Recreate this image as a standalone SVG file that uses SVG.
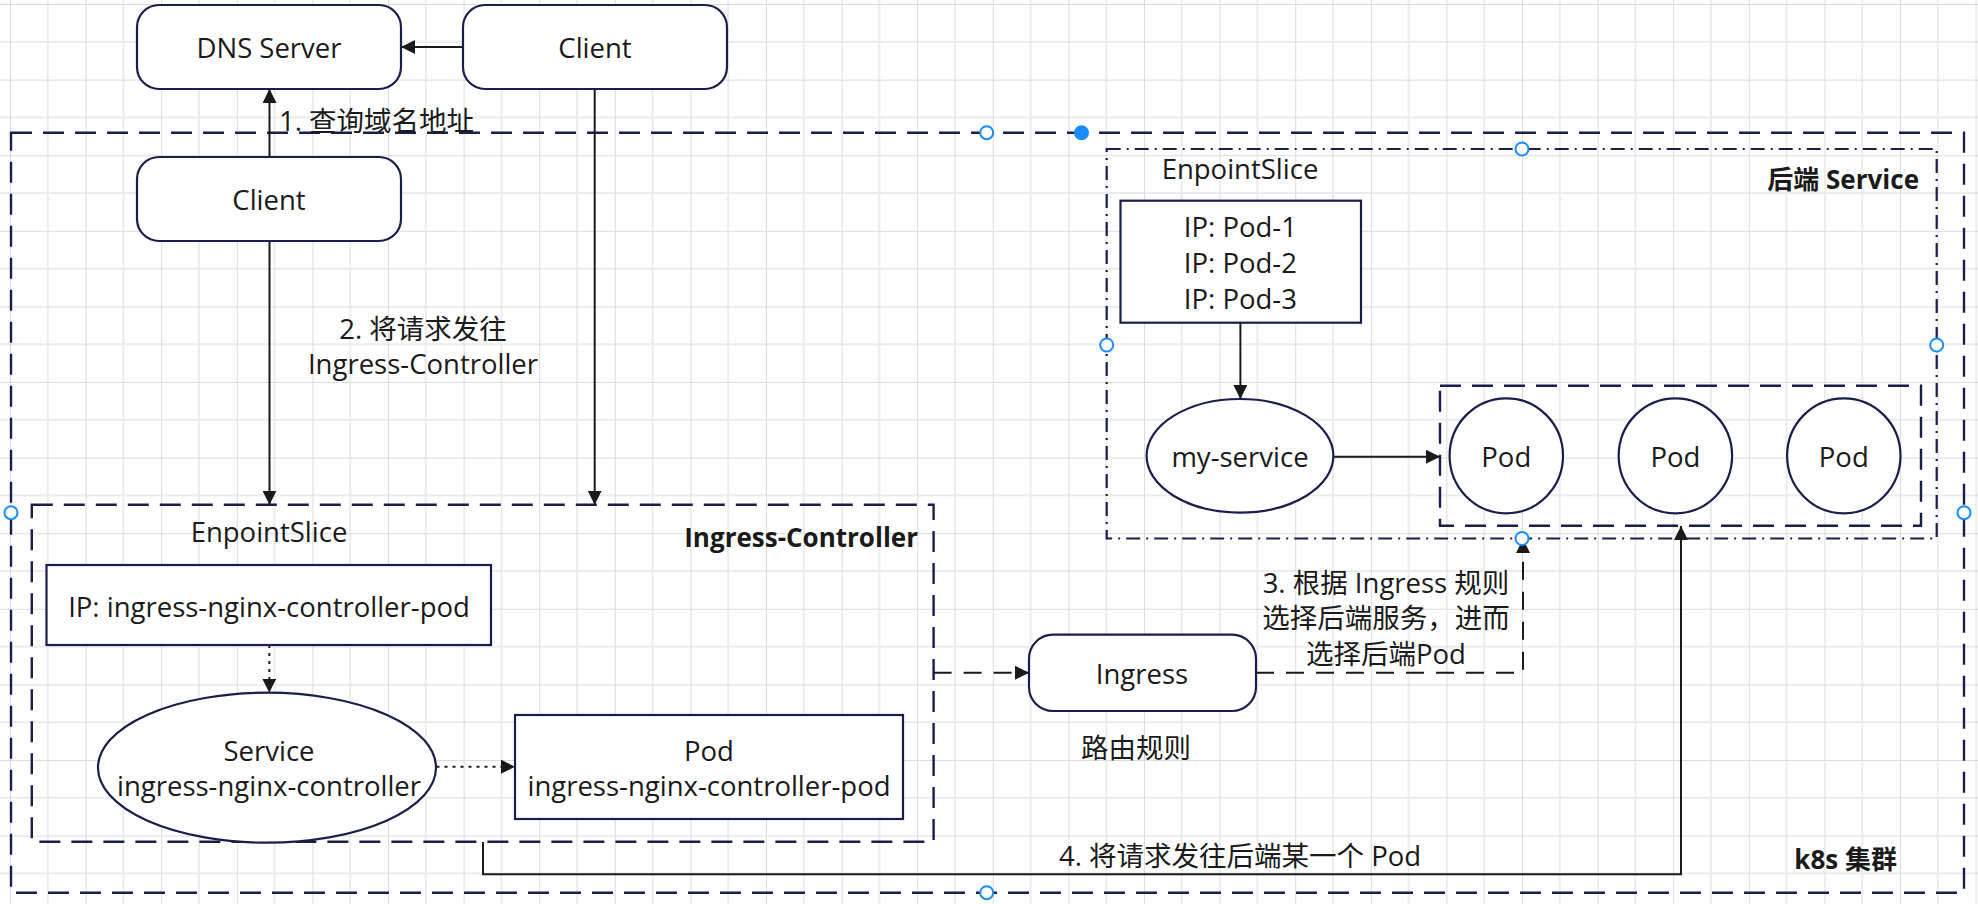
<svg xmlns="http://www.w3.org/2000/svg" width="1978" height="904" viewBox="0 0 1978 904">
<defs>
<pattern id="grid" x="10" y="4" width="75.6" height="75.6" patternUnits="userSpaceOnUse">
<path d="M0 37.8 H75.6 M37.8 0 V75.6" fill="none" stroke="#ececec" stroke-width="2"/>
<path d="M0 0 H75.6 M0 0 V75.6" fill="none" stroke="#dcdcdc" stroke-width="2"/>
</pattern>
<marker id="arr" viewBox="0 0 14 14" refX="14" refY="7" markerWidth="14" markerHeight="14" markerUnits="userSpaceOnUse" orient="auto">
<path d="M0,0 L14,7 L0,14 z" fill="#1a1a1a"/>
</marker>
</defs>
<style>
.node{fill:#ffffff;stroke:#1b1e4b;stroke-width:2.2}
.cont{fill:none;stroke:#1b1e4b;stroke-width:2.4;stroke-dasharray:21 11}
.dashdot{fill:none;stroke:#1b1e4b;stroke-width:2.2;stroke-dasharray:14 6 2 6}
.edge{fill:none;stroke:#1a1a1a;stroke-width:2}
.dashed{stroke-dasharray:18 12}
.dotted{stroke-dasharray:3 5}
.t{font-family:"Open Sans","Noto Sans CJK SC",sans-serif;font-size:27.5px;fill:#1a1a1a;text-anchor:middle;dominant-baseline:central}
.b{font-weight:bold;text-anchor:end;font-size:26px}
.l{text-anchor:start}
.h{fill:#ffffff;stroke:#1a8cff;stroke-width:2}
.hf{fill:#1a8cff;stroke:#1a8cff;stroke-width:2}
</style>
<rect x="0" y="0" width="1978" height="904" fill="#ffffff"/>
<rect x="0" y="0" width="1978" height="904" fill="url(#grid)"/>

<g id="k8s-cluster">
<rect class="cont" x="11" y="132.7" width="1953" height="760"/>
<text class="t b" x="1897" y="859">k8s 集群</text>
</g>

<g id="backend-service">
<rect class="dashdot" x="1106.7" y="149" width="830" height="389.5"/>
<text class="t b" x="1919" y="179">后端 Service</text>
<text class="t" x="1240" y="168">EnpointSlice</text>
</g>

<g id="ingress-controller">
<rect class="cont" x="31.8" y="504.7" width="901.8" height="337"/>
<text class="t b" x="918" y="536.7">Ingress-Controller</text>
<text class="t" x="269" y="531.7">EnpointSlice</text>
</g>

<g id="pods-group">
<rect class="cont" x="1440" y="385.7" width="481" height="140"/>
</g>

<g id="connectors">
<path class="edge" d="M463 47 H401" marker-end="url(#arr)"/>
<path class="edge" d="M269.5 157 V89" marker-end="url(#arr)"/>
<path class="edge" d="M269.5 241 V504.7" marker-end="url(#arr)"/>
<path class="edge" d="M594.7 89 V504.7" marker-end="url(#arr)"/>
<path class="edge dotted" d="M269.3 645 V692.7" marker-end="url(#arr)"/>
<path class="edge dotted" d="M436.5 766.7 H515" marker-end="url(#arr)"/>
<path class="edge dashed" d="M933.6 672.7 H1029" marker-end="url(#arr)"/>
<path class="edge dashed" d="M1256 672.7 H1523 V539" marker-end="url(#arr)"/>
<path class="edge" d="M483 842 V874.3 H1681 V526" marker-end="url(#arr)"/>
<path class="edge" d="M1240.4 322.7 V399" marker-end="url(#arr)"/>
<path class="edge" d="M1333.5 456.7 H1440" marker-end="url(#arr)"/>
<text class="t l" x="279" y="120">1. 查询域名地址</text>
<text class="t" x="423" y="328">2. 将请求发往</text>
<text class="t" x="423" y="363">Ingress-Controller</text>
<text class="t" x="1386" y="582">3. 根据 Ingress 规则</text>
<text class="t" x="1386" y="617">选择后端服务，进而</text>
<text class="t" x="1386" y="653">选择后端Pod</text>
<text class="t" x="1240" y="855">4. 将请求发往后端某一个 Pod</text>
</g>

<g id="dns-server">
<rect class="node" x="137" y="5" width="264" height="84" rx="22" ry="22"/>
<text class="t" x="269" y="47">DNS Server</text>
</g>

<g id="client-outside">
<rect class="node" x="463" y="5" width="264" height="84" rx="22" ry="22"/>
<text class="t" x="595" y="47">Client</text>
</g>

<g id="client-inside">
<rect class="node" x="137" y="157" width="264" height="84" rx="22" ry="22"/>
<text class="t" x="269" y="199">Client</text>
</g>

<g id="ingress-endpointslice">
<rect class="node" x="46.5" y="565" width="444.5" height="80"/>
<text class="t" x="269" y="606">IP: ingress-nginx-controller-pod</text>
</g>

<g id="ingress-service">
<ellipse class="node" cx="267" cy="767.7" rx="169" ry="75"/>
<text class="t" x="269" y="750">Service</text>
<text class="t" x="269" y="785">ingress-nginx-controller</text>
</g>

<g id="ingress-pod">
<rect class="node" x="515" y="715" width="388" height="104"/>
<text class="t" x="709" y="750">Pod</text>
<text class="t" x="709" y="785">ingress-nginx-controller-pod</text>
</g>

<g id="ingress">
<rect class="node" x="1029" y="634.7" width="227" height="76.3" rx="24" ry="24"/>
<text class="t" x="1142" y="673">Ingress</text>
<text class="t" x="1136" y="747">路由规则</text>
</g>

<g id="backend-endpointslice">
<rect class="node" x="1120.5" y="200.7" width="240.5" height="122"/>
<text class="t" x="1240.4" y="226.7">IP: Pod-1</text>
<text class="t" x="1240.4" y="262.3">IP: Pod-2</text>
<text class="t" x="1240.4" y="298.3">IP: Pod-3</text>
</g>

<g id="my-service">
<ellipse class="node" cx="1240" cy="455.8" rx="93.4" ry="56.8"/>
<text class="t" x="1240" y="456">my-service</text>
</g>

<g id="pod-1">
<ellipse class="node" cx="1506.3" cy="455.8" rx="56.7" ry="57.5"/>
<text class="t" x="1506.3" y="456">Pod</text>
</g>
<g id="pod-2">
<ellipse class="node" cx="1675.4" cy="455.8" rx="56.7" ry="57.5"/>
<text class="t" x="1675.4" y="456">Pod</text>
</g>
<g id="pod-3">
<ellipse class="node" cx="1843.8" cy="455.8" rx="56.7" ry="57.5"/>
<text class="t" x="1843.8" y="456">Pod</text>
</g>

<g id="handles">
<circle class="h" cx="986.7" cy="132.7" r="6.5"/>
<circle class="hf" cx="1081.5" cy="132.7" r="6.5"/>
<circle class="h" cx="11" cy="512.7" r="6.5"/>
<circle class="h" cx="1964" cy="512.7" r="6.5"/>
<circle class="h" cx="986.7" cy="892.7" r="6.5"/>
<circle class="h" cx="1522" cy="149" r="6.5"/>
<circle class="h" cx="1106.7" cy="345" r="6.5"/>
<circle class="h" cx="1936.7" cy="345" r="6.5"/>
<circle class="h" cx="1522" cy="538.5" r="6.5"/>
</g>
</svg>
